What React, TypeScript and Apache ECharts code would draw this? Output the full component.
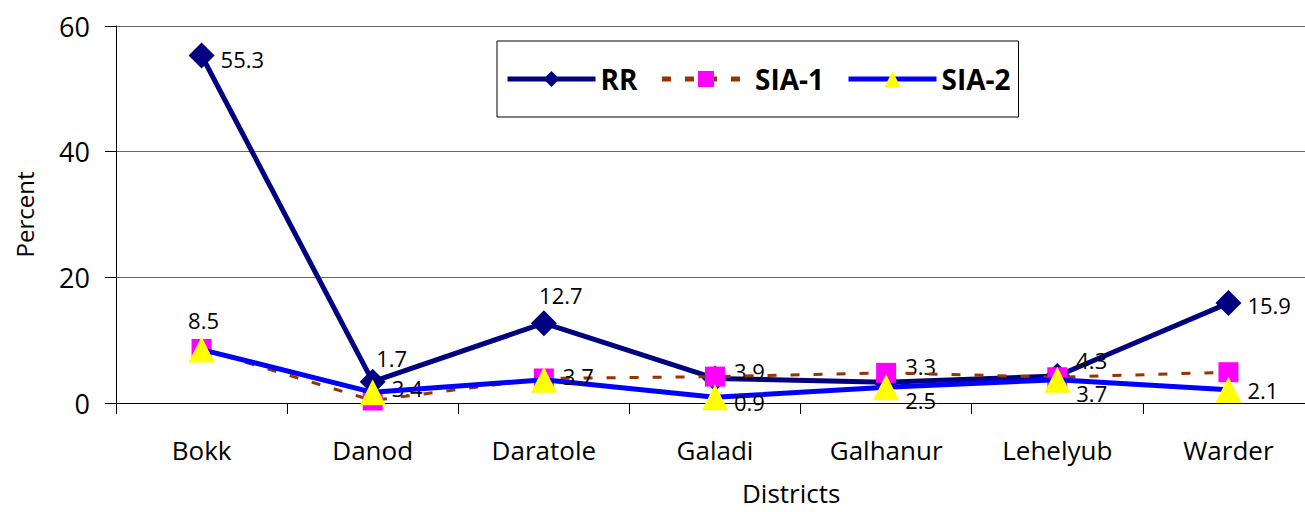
import React, { useEffect, useRef } from 'react';
import * as echarts from 'echarts';

const categories = ['Bokk', 'Danod', 'Daratole', 'Galadi', 'Galhanur', 'Lehelyub', 'Warder'];
const rrValues = [55.3, 3.4, 12.7, 3.9, 3.3, 4.3, 15.9];
const sia1Values = [8.6, 0.4, 3.9, 4.2, 4.8, 4.1, 4.9];
const sia2Values = [8.5, 1.7, 3.7, 0.9, 2.5, 3.7, 2.1];
const yMin = 0;
const yMax = 60;
const yStep = 20;

const rrLabelPos = ['right', 'right', 'top', 'right', 'right', 'right', 'right'];
const rrLabelOffset = [[0, 3], [0, 6], [17, 2], [0, -7], [0, -16], [0, -16], [0, 2]];
const sia2LabelPos = ['top', 'top', 'right', 'right', 'right', 'right', 'right'];
const sia2LabelOffset = [[2, 0], [19, -4], [0, -4], [0, 5], [0, 13], [0, 13], [0, 0]];

const FONT = "'Open Sans', sans-serif";

export default function App() {
  const ref = useRef<HTMLDivElement>(null);
  useEffect(() => {
    document.body.style.margin = '0';
    document.body.style.overflow = 'hidden';
    const chart = echarts.init(ref.current!, null, { renderer: 'svg' });
    const labelBase = { show: true, color: '#000', fontSize: 22, fontFamily: FONT, distance: 6 };
    chart.setOption({
      animation: false,
      backgroundColor: '#fff',
      grid: { left: 116, top: 26, width: 1198, height: 377 },
      legend: {
        left: 497,
        top: 41,
        orient: 'horizontal',
        borderColor: '#000',
        borderWidth: 1,
        padding: [24, 8, 24, 8],
        itemWidth: 88,
        itemHeight: 20,
        itemGap: 22,
        lineStyle: { width: 5 },
        textStyle: { fontSize: 28, fontWeight: 'bold', color: '#000', fontFamily: FONT },
        data: ['RR', 'SIA-1', 'SIA-2'],
      },
      xAxis: {
        type: 'category',
        data: categories,
        boundaryGap: true,
        axisLine: { show: true, lineStyle: { color: '#000', width: 1 } },
        axisTick: { show: true, length: 11, interval: 0, lineStyle: { color: '#000' } },
        axisLabel: { fontSize: 26, color: '#000', fontFamily: FONT, margin: 34, interval: 0 },
        splitLine: { show: false },
      },
      yAxis: {
        type: 'value',
        min: yMin,
        max: yMax,
        interval: yStep,
        name: 'Percent',
        nameLocation: 'middle',
        nameGap: 80,
        nameTextStyle: { fontSize: 24, color: '#000', fontFamily: FONT },
        axisLine: { show: true, lineStyle: { color: '#000', width: 1 } },
        axisTick: { show: true, length: 11, lineStyle: { color: '#000' } },
        axisLabel: { fontSize: 27, color: '#000', fontFamily: FONT, margin: 26 },
        splitLine: { show: true, lineStyle: { color: '#666', width: 1 } },
      },
      graphic: [
        {
          type: 'text',
          left: 742,
          top: 480,
          style: { text: 'Districts', fontSize: 26, fill: '#000', fontFamily: FONT },
        },
      ],
      series: [
        {
          name: 'RR',
          type: 'line',
          data: rrValues.map((v, i) => ({
            value: v,
            label: { ...labelBase, position: rrLabelPos[i], offset: rrLabelOffset[i] },
          })),
          lineStyle: { color: '#000080', width: 5 },
          itemStyle: { color: '#000080' },
          symbol: 'diamond',
          symbolSize: 26,
          z: 2,
        },
        {
          name: 'SIA-1',
          type: 'line',
          data: sia1Values,
          lineStyle: { color: '#993300', width: 3, type: [9, 14] },
          itemStyle: { color: '#FF00FF' },
          symbol: 'rect',
          symbolSize: 20,
          label: { show: false },
          z: 3,
        },
        {
          name: 'SIA-2',
          type: 'line',
          data: sia2Values.map((v, i) => ({
            value: v,
            label: { ...labelBase, position: sia2LabelPos[i], offset: sia2LabelOffset[i] },
          })),
          lineStyle: { color: '#0000FF', width: 5 },
          itemStyle: { color: '#FFFF00' },
          symbol: 'triangle',
          symbolSize: 26,
          z: 4,
        },
      ],
    });
    return () => chart.dispose();
  }, []);
  return (
    <div
      ref={ref}
      style={{ position: 'fixed', left: 0, top: 0, width: 1330, height: 512 }}
    />
  );
}
